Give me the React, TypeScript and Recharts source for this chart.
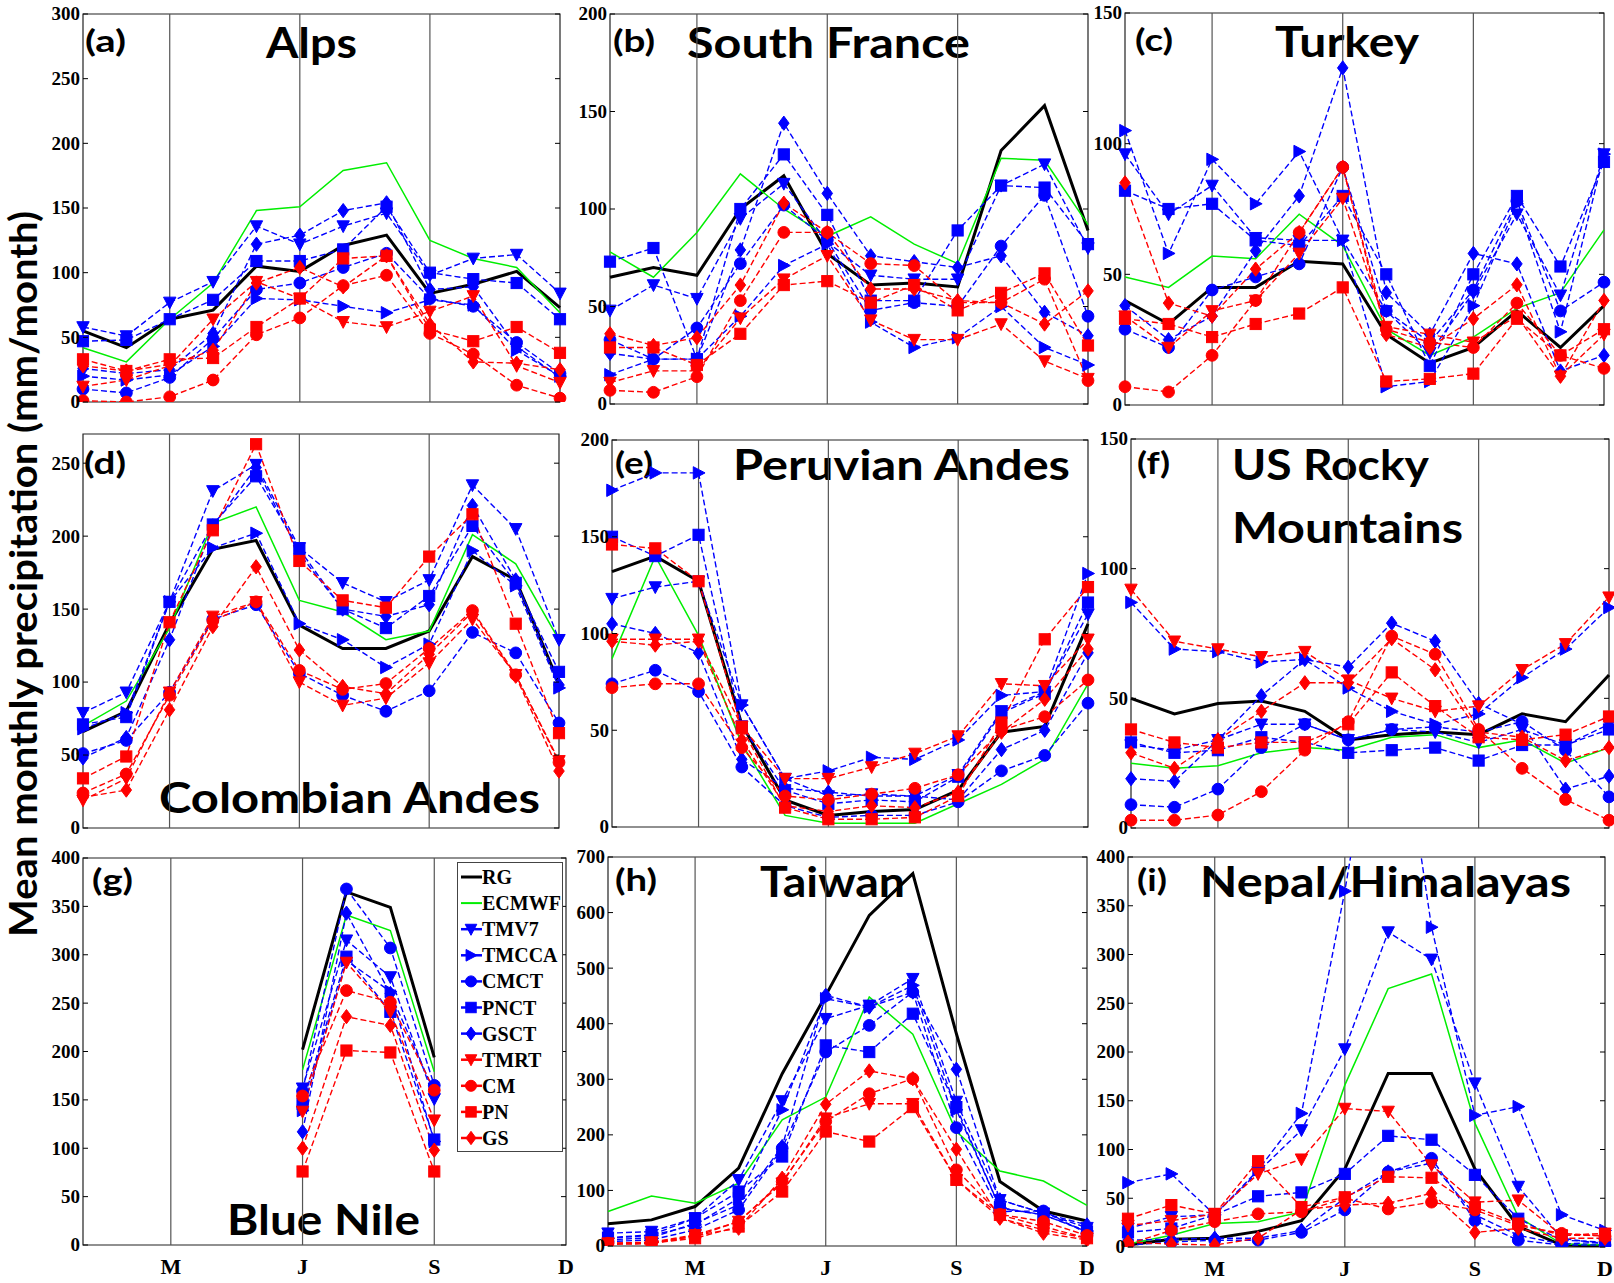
import React from "react";
import { LineChart, Line, XAxis, YAxis, ReferenceLine, ReferenceArea } from "recharts";

// months Jan..Dec, ticks at Mar, Jun, Sep, Dec
const MONTHS = [1, 2, 3, 4, 5, 6, 7, 8, 9, 10, 11, 12];
const MONTH_TICKS = [3, 6, 9, 12];
const MONTH_LABELS = ["M", "J", "S", "D"];
const GRID_MONTHS = [3, 6, 9];

const TICKS_150 = [0, 50, 100, 150];
const TICKS_200 = [0, 50, 100, 150, 200];
const TICKS_250 = [0, 50, 100, 150, 200, 250];
const TICKS_300 = [0, 50, 100, 150, 200, 250, 300];
const TICKS_400 = [0, 50, 100, 150, 200, 250, 300, 350, 400];
const TICKS_700 = [0, 100, 200, 300, 400, 500, 600, 700];

type Shape = "none" | "down" | "right" | "circle" | "square" | "diamond";
type Vals = (number | null)[];

const SERIES: { name: string; color: string; shape: Shape; width: number; dash?: string }[] = [
  { name: "RG", color: "#000000", shape: "none", width: 3 },
  { name: "ECMWF", color: "#00ee00", shape: "none", width: 1.5 },
  { name: "TMV7", color: "#0000ff", shape: "down", width: 1.4, dash: "6 3" },
  { name: "TMCCA", color: "#0000ff", shape: "right", width: 1.4, dash: "6 3" },
  { name: "CMCT", color: "#0000ff", shape: "circle", width: 1.4, dash: "6 3" },
  { name: "PNCT", color: "#0000ff", shape: "square", width: 1.4, dash: "6 3" },
  { name: "GSCT", color: "#0000ff", shape: "diamond", width: 1.4, dash: "6 3" },
  { name: "TMRT", color: "#ff0000", shape: "down", width: 1.4, dash: "6 3" },
  { name: "CM", color: "#ff0000", shape: "circle", width: 1.4, dash: "6 3" },
  { name: "PN", color: "#ff0000", shape: "square", width: 1.4, dash: "6 3" },
  { name: "GS", color: "#ff0000", shape: "diamond", width: 1.4, dash: "6 3" },
];

const ALPS: Record<string, Vals> = {
  RG: [55, 42, 64, 71, 105, 101, 121, 129, 84, 91, 101, 73],
  ECMWF: [42, 31, 64, 92, 148, 151, 179, 185, 125, 111, 104, 69],
  TMV7: [58, 51, 77, 93, 136, 122, 136, 146, 98, 111, 114, 84],
  TMCCA: [20, 17, 21, 43, 80, 79, 74, 69, 79, 75, 40, 20],
  CMCT: [10, 7, 19, 49, 87, 92, 104, 115, 80, 74, 46, 22],
  PNCT: [47, 48, 64, 79, 109, 109, 118, 151, 100, 95, 92, 64],
  GSCT: [26, 22, 25, 53, 122, 129, 148, 154, 87, 89, 43, 19],
  TMRT: [12, 17, 28, 64, 93, 80, 62, 58, 70, 82, 28, 15],
  CM: [1, 0, 4, 17, 52, 65, 90, 98, 53, 37, 13, 3],
  PN: [33, 24, 33, 34, 58, 80, 111, 113, 56, 47, 58, 38],
  GS: [28, 24, 29, 40, 92, 104, 89, 113, 60, 31, 30, 25],
};

const SOUTH_FRANCE: Record<string, Vals> = {
  RG: [65, 70, 66, 100, 117, 77, 61, 62, 60, 130, 153, 89],
  ECMWF: [78, 65, 88, 118, 100, 86, 96, 82, 72, 126, 125, 92],
  TMV7: [48, 61, 54, 95, 113, 83, 66, 64, 64, 112, 123, 80],
  TMCCA: [15, 23, 23, 45, 71, 82, 42, 29, 34, 50, 29, 20],
  CMCT: [33, 23, 39, 72, 102, 84, 48, 52, 50, 81, 107, 45],
  PNCT: [73, 80, 23, 100, 128, 97, 53, 53, 89, 112, 111, 82],
  GSCT: [26, 23, 23, 79, 144, 108, 76, 73, 70, 76, 47, 35],
  TMRT: [11, 17, 17, 44, 64, 76, 43, 33, 33, 41, 22, 13],
  CM: [7, 6, 14, 53, 88, 88, 72, 71, 52, 52, 64, 12],
  PN: [29, 29, 20, 36, 61, 63, 52, 61, 48, 57, 67, 30],
  GS: [36, 30, 34, 61, 103, 88, 59, 59, 53, 52, 41, 58],
};

const TURKEY: Record<string, Vals> = {
  RG: [40, 31, 45, 45, 55, 54, 27, 16, 22, 36, 22, 38],
  ECMWF: [49, 45, 57, 56, 73, 61, 29, 19, 26, 37, 43, 67],
  TMV7: [96, 73, 84, 64, 63, 63, 36, 20, 43, 73, 42, 96],
  TMCCA: [105, 58, 94, 77, 97, 63, 7, 9, 38, 77, 28, 96],
  CMCT: [29, 22, 44, 49, 54, 91, 36, 24, 44, 78, 36, 47],
  PNCT: [82, 75, 77, 63, 61, 80, 50, 15, 50, 80, 53, 93],
  GSCT: [38, 25, 34, 59, 80, 129, 43, 27, 58, 54, 13, 19],
  TMRT: [34, 22, 36, 40, 58, 79, 30, 27, 24, 34, 11, 27],
  CM: [7, 5, 19, 40, 66, 91, 29, 24, 22, 39, 19, 14],
  PN: [33, 31, 26, 31, 35, 45, 9, 10, 12, 33, 19, 29],
  GS: [85, 39, 34, 52, 66, 91, 27, 22, 33, 46, 11, 40],
};

const COLOMBIA: Record<string, Vals> = {
  RG: [66, 80, 140, 191, 197, 139, 123, 123, 135, 186, 170, 99],
  ECMWF: [70, 87, 137, 209, 220, 156, 148, 129, 135, 201, 181, 129],
  TMV7: [79, 93, 155, 231, 249, 192, 168, 155, 170, 235, 205, 129],
  TMCCA: [68, 79, 155, 192, 202, 140, 129, 110, 126, 190, 166, 96],
  CMCT: [51, 60, 93, 143, 153, 106, 91, 80, 94, 134, 120, 72],
  PNCT: [71, 76, 155, 208, 241, 191, 150, 137, 159, 207, 168, 107],
  GSCT: [48, 62, 129, 207, 247, 188, 150, 145, 153, 221, 170, 98],
  TMRT: [19, 34, 93, 145, 155, 100, 84, 89, 113, 143, 105, 46],
  CM: [24, 37, 91, 142, 155, 108, 95, 99, 123, 149, 105, 45],
  PN: [34, 49, 141, 204, 263, 183, 156, 151, 186, 215, 140, 65],
  GS: [21, 26, 81, 138, 179, 122, 97, 92, 119, 148, 104, 39],
};

const PERU: Record<string, Vals> = {
  RG: [132, 140, 127, 53, 14, 6, 8, 9, 19, 49, 52, 105],
  ECMWF: [87, 140, 99, 43, 6, 2, 2, 2, 12, 22, 35, 74],
  TMV7: [118, 124, 127, 63, 25, 16, 17, 16, 27, 60, 70, 110],
  TMCCA: [174, 183, 183, 63, 25, 29, 36, 35, 45, 68, 70, 131],
  CMCT: [74, 81, 70, 31, 11, 5, 6, 6, 13, 29, 37, 64],
  PNCT: [150, 140, 151, 52, 19, 12, 14, 13, 26, 59, 69, 116],
  GSCT: [105, 100, 90, 35, 20, 18, 16, 16, 14, 40, 50, 90],
  TMRT: [97, 97, 97, 52, 25, 25, 31, 38, 47, 74, 73, 97],
  CM: [72, 74, 74, 41, 16, 14, 17, 20, 27, 50, 57, 76],
  PN: [146, 144, 127, 51, 10, 4, 4, 5, 16, 54, 97, 124],
  GS: [96, 94, 96, 45, 11, 8, 11, 10, 18, 49, 66, 92],
};

const ROCKY: Record<string, Vals> = {
  RG: [50, 44, 48, 49, 45, 34, 36, 37, 36, 44, 41, 59],
  ECMWF: [25, 23, 24, 29, 31, 30, 35, 36, 31, 34, 25, 31],
  TMV7: [32, 30, 34, 40, 40, 34, 38, 37, 33, 38, 32, 40],
  TMCCA: [87, 69, 68, 64, 65, 54, 45, 40, 44, 58, 69, 85],
  CMCT: [9, 8, 15, 31, 40, 34, 38, 39, 37, 41, 30, 12],
  PNCT: [33, 29, 30, 35, 33, 29, 30, 31, 26, 32, 32, 38],
  GSCT: [19, 18, 34, 51, 65, 62, 79, 72, 48, 40, 15, 20],
  TMRT: [92, 72, 69, 66, 68, 57, 50, 45, 47, 61, 71, 89],
  CM: [3, 3, 5, 14, 30, 41, 74, 67, 38, 23, 11, 3],
  PN: [38, 33, 31, 33, 33, 40, 60, 47, 35, 34, 36, 43],
  GS: [29, 23, 34, 45, 56, 56, 73, 61, 37, 35, 26, 31],
};

const BLUE_NILE: Record<string, Vals> = {
  RG: [null, null, null, null, null, 202, 365, 349, 194, null, null, null],
  ECMWF: [null, null, null, null, null, 181, 341, 325, 179, null, null, null],
  TMV7: [null, null, null, null, null, 162, 315, 277, 151, null, null, null],
  TMCCA: [null, null, null, null, null, 139, 294, 262, 107, null, null, null],
  CMCT: [null, null, null, null, null, 159, 368, 307, 165, null, null, null],
  PNCT: [null, null, null, null, null, 146, 298, 241, 109, null, null, null],
  GSCT: [null, null, null, null, null, 117, 343, 260, 158, null, null, null],
  TMRT: [null, null, null, null, null, 138, 292, 241, 129, null, null, null],
  CM: [null, null, null, null, null, 154, 263, 251, 160, null, null, null],
  PN: [null, null, null, null, null, 76, 201, 199, 76, null, null, null],
  GS: [null, null, null, null, null, 100, 236, 227, 98, null, null, null],
};

const TAIWAN: Record<string, Vals> = {
  RG: [40, 47, 71, 140, 310, 451, 595, 670, 382, 116, 63, 45],
  ECMWF: [62, 90, 77, 113, 227, 268, 448, 381, 206, 135, 117, 73],
  TMV7: [23, 26, 50, 119, 261, 409, 433, 481, 260, 83, 59, 33],
  TMCCA: [14, 19, 38, 86, 245, 445, 430, 469, 245, 69, 56, 27],
  CMCT: [8, 11, 29, 65, 176, 349, 397, 457, 213, 62, 63, 23],
  PNCT: [15, 20, 50, 98, 161, 361, 349, 418, 250, 68, 56, 26],
  GSCT: [11, 15, 41, 74, 179, 451, 430, 457, 318, 83, 59, 38],
  TMRT: [5, 7, 20, 44, 113, 230, 256, 256, 119, 50, 29, 14],
  CM: [5, 6, 17, 44, 116, 224, 274, 301, 137, 57, 44, 19],
  PN: [4, 5, 14, 35, 98, 206, 188, 250, 119, 56, 35, 14],
  GS: [3, 4, 19, 32, 122, 255, 315, 301, 174, 50, 23, 11],
};

const NEPAL: Record<string, Vals> = {
  RG: [2, 8, 9, 16, 27, 80, 178, 178, 80, 21, 2, 1],
  ECMWF: [3, 12, 24, 26, 36, 166, 265, 280, 127, 31, 3, 2],
  TMV7: [19, 31, 33, 77, 120, 203, 323, 295, 168, 62, 9, 3],
  TMCCA: [66, 75, 33, 79, 137, 365, 630, 328, 135, 144, 33, 17],
  CMCT: [2, 5, 7, 7, 15, 38, 77, 91, 27, 7, 2, 2],
  PNCT: [15, 19, 33, 52, 56, 75, 114, 110, 74, 29, 7, 5],
  GSCT: [7, 8, 9, 9, 17, 50, 77, 86, 33, 12, 3, 5],
  TMRT: [22, 27, 34, 75, 90, 142, 139, 84, 46, 48, 12, 14],
  CM: [3, 17, 26, 34, 36, 50, 39, 46, 38, 22, 14, 11],
  PN: [29, 43, 34, 88, 41, 51, 72, 71, 41, 24, 12, 12],
  GS: [5, 3, 2, 9, 38, 43, 45, 55, 15, 19, 9, 9],
};

type PanelCfg = {
  id: string;
  data: Record<string, Vals>;
  yMax: number;
  ticks: number[];
  box: [number, number, number, number];
  xLabels: boolean;
};

const PANELS: PanelCfg[] = [
  { id: "a", data: ALPS, yMax: 300, ticks: TICKS_300, box: [83, 14, 560, 402], xLabels: false },
  { id: "b", data: SOUTH_FRANCE, yMax: 200, ticks: TICKS_200, box: [610, 14, 1088, 404], xLabels: false },
  { id: "c", data: TURKEY, yMax: 150, ticks: TICKS_150, box: [1125, 13, 1604, 405], xLabels: false },
  { id: "d", data: COLOMBIA, yMax: 270, ticks: TICKS_250, box: [83, 434, 559, 828], xLabels: false },
  { id: "e", data: PERU, yMax: 200, ticks: TICKS_200, box: [612, 440, 1088, 827], xLabels: false },
  { id: "f", data: ROCKY, yMax: 150, ticks: TICKS_150, box: [1131, 439, 1609, 828], xLabels: false },
  { id: "g", data: BLUE_NILE, yMax: 400, ticks: TICKS_400, box: [83, 858, 566, 1245], xLabels: true },
  { id: "h", data: TAIWAN, yMax: 700, ticks: TICKS_700, box: [608, 857, 1087, 1246], xLabels: true },
  { id: "i", data: NEPAL, yMax: 400, ticks: TICKS_400, box: [1128, 857, 1605, 1247], xLabels: true },
];

const TITLES = [
  { t: "(a)", x: 85, y: 52, w: 41, fs: 31 },
  { t: "Alps", x: 266, y: 58, w: 91, fs: 42 },
  { t: "(b)", x: 613, y: 52, w: 42, fs: 31 },
  { t: "South France", x: 687, y: 58, w: 283, fs: 42 },
  { t: "(c)", x: 1135, y: 51, w: 38, fs: 31 },
  { t: "Turkey", x: 1275, y: 57, w: 144, fs: 42 },
  { t: "(d)", x: 84, y: 474, w: 42, fs: 31 },
  { t: "Colombian Andes", x: 159, y: 813, w: 381, fs: 42 },
  { t: "(e)", x: 615, y: 474, w: 38, fs: 31 },
  { t: "Peruvian Andes", x: 733, y: 480, w: 337, fs: 42 },
  { t: "(f)", x: 1137, y: 474, w: 33, fs: 31 },
  { t: "US Rocky", x: 1232, y: 480, w: 197, fs: 42 },
  { t: "Mountains", x: 1232, y: 543, w: 231, fs: 42 },
  { t: "(g)", x: 92, y: 891, w: 41, fs: 31 },
  { t: "Blue Nile", x: 227, y: 1235, w: 193, fs: 42 },
  { t: "(h)", x: 615, y: 891, w: 42, fs: 31 },
  { t: "Taiwan", x: 760, y: 897, w: 145, fs: 42 },
  { t: "(i)", x: 1137, y: 891, w: 30, fs: 31 },
  { t: "Nepal/Himalayas", x: 1200, y: 897, w: 371, fs: 42 },
];

const SANS = "Lato, 'Open Sans', sans-serif";
const SERIF = "'Liberation Serif', 'Times New Roman', serif";

function Marker({ shape, cx, cy, color, s = 6 }: { shape: Shape; cx: number; cy: number; color: string; s?: number }) {
  if (shape === "down")
    return <polygon points={`${cx - s},${cy - s * 0.85} ${cx + s},${cy - s * 0.85} ${cx},${cy + s * 1.05}`} fill={color} stroke={color} />;
  if (shape === "right")
    return <polygon points={`${cx - s * 0.85},${cy - s} ${cx - s * 0.85},${cy + s} ${cx + s * 1.05},${cy}`} fill={color} stroke={color} />;
  if (shape === "circle") return <circle cx={cx} cy={cy} r={s * 0.95} fill={color} stroke={color} />;
  if (shape === "square")
    return <rect x={cx - s * 0.9} y={cy - s * 0.9} width={s * 1.8} height={s * 1.8} fill={color} stroke={color} />;
  if (shape === "diamond")
    return <polygon points={`${cx},${cy - s * 1.15} ${cx + s * 0.85},${cy} ${cx},${cy + s * 1.15} ${cx - s * 0.85},${cy}`} fill={color} stroke={color} />;
  return null;
}

const makeDot = (shape: Shape, color: string) => (p: any) => {
  const k = `dot-${p.index}`;
  if (p.value == null || !Number.isFinite(p.cx) || !Number.isFinite(p.cy)) return <g key={k} />;
  return (
    <g key={k}>
      <Marker shape={shape} cx={p.cx} cy={p.cy} color={color} s={6.2} />
    </g>
  );
};

const PAD = 8;
const ML = 62;
const MR = 4;
const MT = 10;
const XH = 40;

function Panel({ cfg }: { cfg: PanelCfg }) {
  const [x0, y0, x1, y1] = cfg.box;
  const bw = x1 - x0;
  const bh = y1 - y0;
  const width = ML + PAD + bw + PAD + MR;
  const height = MT + bh + PAD + XH;
  const left = ML + PAD;
  const right = left + bw;
  const bottom = MT + bh;

  const rows = MONTHS.map((m, i) => {
    const r: Record<string, number | null> = { m };
    SERIES.forEach((s) => {
      r[s.name] = cfg.data[s.name][i];
    });
    return r;
  });

  const yTick = (p: any) => (
    <g>
      <line x1={left} x2={left + 5} y1={p.y} y2={p.y} stroke="#000" />
      <line x1={right - 5} x2={right} y1={p.y} y2={p.y} stroke="#000" />
      <text x={left - 3} y={p.y} dy={6.4} textAnchor="end" fontFamily={SERIF} fontWeight="bold" fontSize={19} fill="#000">
        {p.payload.value}
      </text>
    </g>
  );

  const xTick = (p: any) => (
    <text x={p.x} y={bottom + 29} textAnchor="middle" fontFamily={SERIF} fontWeight="bold" fontSize={22} fill="#000">
      {MONTH_LABELS[MONTH_TICKS.indexOf(p.payload.value)]}
    </text>
  );

  return (
    <div style={{ position: "absolute", left: x0 - PAD - ML, top: y0 - MT }}>
      <LineChart width={width} height={height} data={rows} margin={{ top: MT, right: MR, bottom: 0, left: 0 }}>
        <XAxis
          dataKey="m"
          type="number"
          domain={[1, 12]}
          ticks={MONTH_TICKS}
          interval={0}
          padding={{ left: PAD, right: PAD }}
          axisLine={false}
          tickLine={false}
          tick={cfg.xLabels ? xTick : false}
          height={XH}
        />
        <YAxis
          type="number"
          domain={[0, cfg.yMax]}
          ticks={cfg.ticks}
          interval={0}
          allowDataOverflow
          padding={{ top: 0, bottom: PAD }}
          axisLine={false}
          tickLine={false}
          tick={yTick}
          width={ML}
        />
        {GRID_MONTHS.map((m) => (
          <ReferenceLine
            key={m}
            segment={[
              { x: m, y: 0 },
              { x: m, y: cfg.yMax },
            ]}
            stroke="#555"
            strokeWidth={1.2}
          />
        ))}
        <ReferenceArea x1={1} x2={12} y1={0} y2={cfg.yMax} fill="none" fillOpacity={0} stroke="#222" strokeWidth={1.2} />
        {SERIES.map((s) => (
          <Line
            key={s.name}
            type="linear"
            dataKey={s.name}
            stroke={s.color}
            strokeWidth={s.width}
            strokeDasharray={s.dash}
            dot={s.shape === "none" ? false : makeDot(s.shape, s.color)}
            activeDot={false}
            connectNulls={false}
            isAnimationActive={false}
          />
        ))}
      </LineChart>
    </div>
  );
}

function Legend() {
  const rowH = 26.1;
  return (
    <div
      style={{
        position: "absolute",
        left: 457,
        top: 862,
        width: 104,
        height: 288,
        border: "1.5px solid #444",
        background: "#fff",
      }}
    >
      <svg width={104} height={288}>
        {SERIES.map((s, i) => {
          const cy = 14 + i * rowH;
          return (
            <g key={s.name}>
              <line x1={3} x2={24} y1={cy} y2={cy} stroke={s.color} strokeWidth={s.shape === "none" ? (s.name === "RG" ? 3 : 2) : 2.5} />
              {s.shape !== "none" && <Marker shape={s.shape} cx={13} cy={cy} color={s.color} s={5.8} />}
              <text x={24} y={cy + 7} fontFamily={SERIF} fontWeight="bold" fontSize={20} fill="#000">
                {s.name}
              </text>
            </g>
          );
        })}
      </svg>
    </div>
  );
}

export default function App() {
  return (
    <div
      style={{
        position: "absolute",
        left: 0,
        top: 0,
        width: 1614,
        height: 1283,
        overflow: "hidden",
        background: "#fff",
      }}
    >
      <svg width={1614} height={1283} style={{ position: "absolute", left: 0, top: 0 }}>
        {TITLES.map((t) => (
          <text
            key={t.t}
            x={t.x}
            y={t.y}
            fontFamily={SANS}
            fontWeight={700}
            fontSize={t.fs}
            textLength={t.w}
            lengthAdjust="spacingAndGlyphs"
            fill="#000"
          >
            {t.t}
          </text>
        ))}
        <text
          transform="translate(37,574) rotate(-90)"
          textAnchor="middle"
          fontFamily={SANS}
          fontWeight={700}
          fontSize={38}
          textLength={726}
          lengthAdjust="spacingAndGlyphs"
          fill="#000"
        >
          Mean monthly precipitation (mm/month)
        </text>
      </svg>
      {PANELS.map((p) => (
        <Panel key={p.id} cfg={p} />
      ))}
      <Legend />
    </div>
  );
}
